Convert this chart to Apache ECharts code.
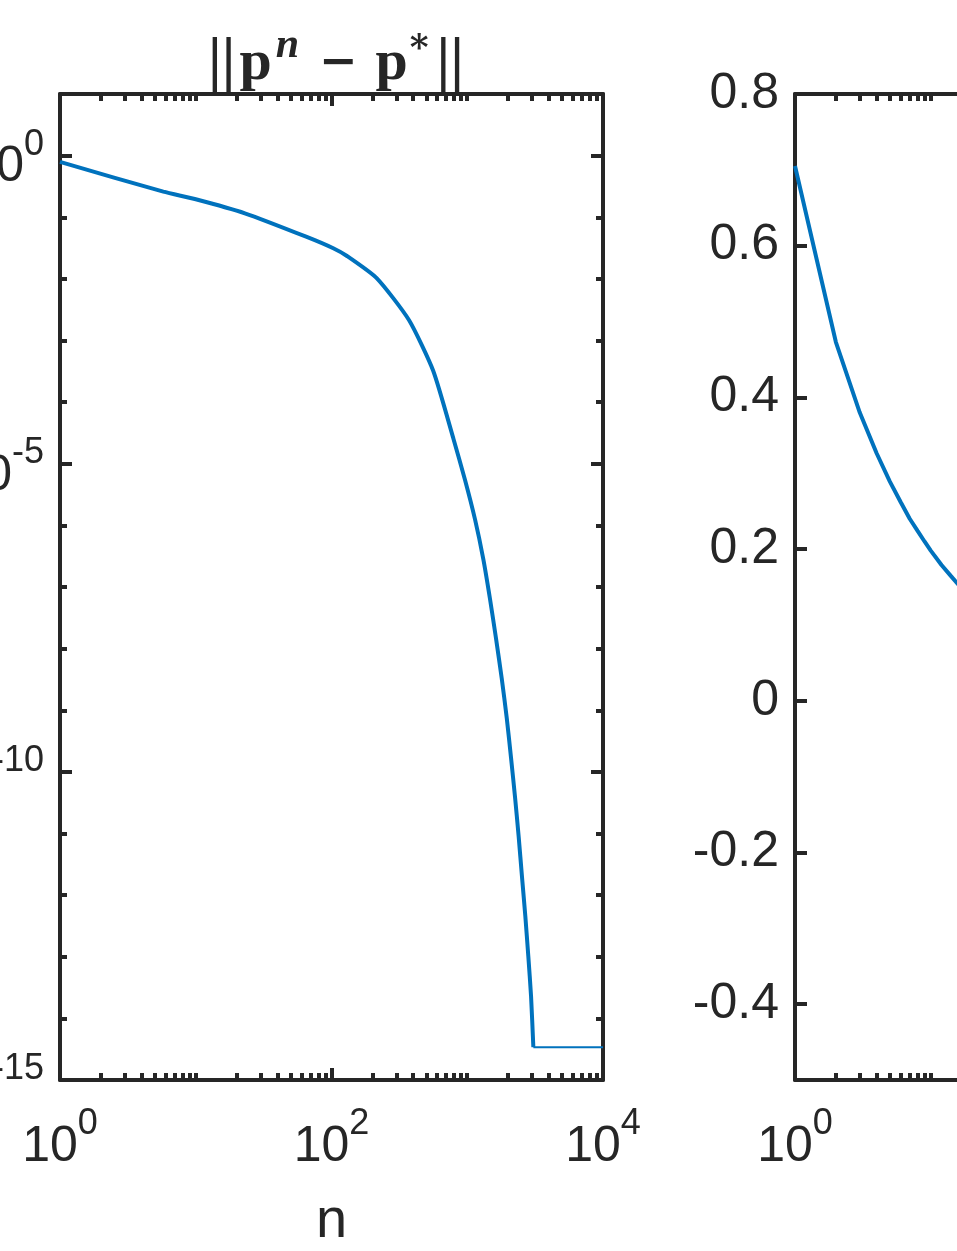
<!DOCTYPE html>
<html lang="en">
<head>
  <meta charset="UTF-8">
  <title>p^n convergence</title>
  <style>
    html, body { margin: 0; padding: 0; background: #fff; }
    #chart { width: 957px; height: 1251px; }
  </style>
</head>
<body>
  <div id="chart"></div>
  <script src="https://cdn.jsdelivr.net/npm/echarts@6/dist/echarts.min.js"></script>
  <script>
    // left panel: ||p^n - p*|| against n, log-log
    var errN = [1, 5.77, 10, 23, 65, 103, 130, 216, 372, 562, 789, 962, 1141, 1313, 1471, 1629, 1794, 1954, 2101, 2249, 2393, 2530, 2677, 2817, 2951, 3069]
    var errVal = [0.79, 0.26, 0.196, 0.116, 0.0484, 0.0314, 0.0235, 0.0102, 2.15e-3, 3.2e-4, 2.6e-5, 5.5e-6, 1.25e-6, 2.84e-7, 6.4e-8, 1.46e-8, 3.3e-9, 7.5e-10, 1.7e-10, 3.9e-11, 8.8e-12, 2.0e-12, 4.6e-13, 1.02e-13, 2.3e-14, 3.4e-15]
    // flat tail once the error hits machine precision
    var floorN = [3069, 10000]
    var floorVal = [3.4e-15, 3.4e-15]

    // right panel (cut off by the page edge)
    var rightN = [1, 2, 3, 4, 5, 6, 7, 8, 9, 10, 12, 14, 16, 18]
    var rightVal = [0.705, 0.473, 0.380, 0.326, 0.289, 0.262, 0.240, 0.224, 0.210, 0.198, 0.179, 0.165, 0.153, 0.144]

    // ticks
    var xMajor = [1, 100, 10000]
    var xMinor = []
    for (var k = 0; k < 4; k++) {
      for (var m = 2; m <= 10; m++) {
        if (m === 10 && (k === 1 || k === 3)) continue
        xMinor.push(m * Math.pow(10, k))
      }
    }
    var errMajor = [1e-15, 1e-10, 1e-5, 1]
    var errMinor = []
    for (var e = -14; e <= 0; e++) {
      if (e % 5 !== 0) errMinor.push(Math.pow(10, e))
    }
    var rightTicks = [-0.4, -0.2, 0, 0.2, 0.4, 0.6]
    var rightLabels = [-0.4, -0.2, 0, 0.2, 0.4, 0.6, 0.8]

    var ink = '#262626'
    var blue = '#0072BD'
    var sans = 'Liberation Sans, Arial, Helvetica, sans-serif'
    var serif = 'Liberation Serif, DejaVu Serif, serif'

    var powRich = {
      b: { fontSize: 50, fontFamily: sans, color: ink, padding: [24, 0, 0, 0] },
      s: { fontSize: 36, fontFamily: sans, color: ink, padding: [0, 0, 22, 0] }
    }

    function powLabel (v) {
      return '{b|10}{s|' + Math.round(Math.log10(v)) + '}'
    }

    function makeAxis (o) {
      var ax = {
        gridIndex: o.grid,
        position: o.pos,
        type: o.type,
        min: o.min,
        max: o.max,
        splitLine: { show: false },
        axisLine: { show: !!o.line, onZero: false, lineStyle: { color: ink, width: 4 } },
        axisTick: { show: true, inside: true, length: o.len, customValues: o.ticks, lineStyle: { color: ink, width: 4 } },
        axisLabel: { show: false }
      }
      if (o.type === 'log') ax.logBase = 10
      if (o.labels) {
        ax.axisLabel = {
          show: true,
          customValues: o.labels,
          formatter: o.fmt,
          margin: o.margin,
          color: ink,
          fontSize: 50,
          fontFamily: sans,
          rich: powRich
        }
      }
      if (o.name) {
        ax.name = o.name
        ax.nameLocation = 'middle'
        ax.nameGap = o.nameGap
        ax.nameTextStyle = { color: ink, fontSize: 56, fontFamily: sans }
      }
      return ax
    }

    var xAxes = []
    var yAxes = []

    // left panel frame
    xAxes.push(makeAxis({ grid: 0, pos: 'bottom', type: 'log', min: 1, max: 10000, line: true, len: 12, ticks: xMajor, labels: xMajor, fmt: powLabel, margin: 18, name: 'n', nameGap: 114 }))
    xAxes.push(makeAxis({ grid: 0, pos: 'bottom', type: 'log', min: 1, max: 10000, len: 7, ticks: xMinor }))
    xAxes.push(makeAxis({ grid: 0, pos: 'top', type: 'log', min: 1, max: 10000, line: true, len: 12, ticks: xMajor }))
    xAxes.push(makeAxis({ grid: 0, pos: 'top', type: 'log', min: 1, max: 10000, len: 7, ticks: xMinor }))
    yAxes.push(makeAxis({ grid: 0, pos: 'left', type: 'log', min: 1e-15, max: 10, line: true, len: 12, ticks: errMajor, labels: errMajor, fmt: powLabel, margin: 16 }))
    yAxes.push(makeAxis({ grid: 0, pos: 'left', type: 'log', min: 1e-15, max: 10, len: 7, ticks: errMinor }))
    yAxes.push(makeAxis({ grid: 0, pos: 'right', type: 'log', min: 1e-15, max: 10, line: true, len: 12, ticks: errMajor }))
    yAxes.push(makeAxis({ grid: 0, pos: 'right', type: 'log', min: 1e-15, max: 10, len: 7, ticks: errMinor }))

    // right panel frame
    var rx = xAxes.length
    xAxes.push(makeAxis({ grid: 1, pos: 'bottom', type: 'log', min: 1, max: 10000, line: true, len: 12, ticks: xMajor, labels: xMajor, fmt: powLabel, margin: 18 }))
    xAxes.push(makeAxis({ grid: 1, pos: 'bottom', type: 'log', min: 1, max: 10000, len: 7, ticks: xMinor }))
    xAxes.push(makeAxis({ grid: 1, pos: 'top', type: 'log', min: 1, max: 10000, line: true, len: 12, ticks: xMajor }))
    xAxes.push(makeAxis({ grid: 1, pos: 'top', type: 'log', min: 1, max: 10000, len: 7, ticks: xMinor }))
    var ry = yAxes.length
    yAxes.push(makeAxis({ grid: 1, pos: 'left', type: 'value', min: -0.5, max: 0.8, line: true, len: 12, ticks: rightTicks, labels: rightLabels, fmt: function (v) { return String(+v.toFixed(1)) }, margin: 16 }))
    yAxes.push(makeAxis({ grid: 1, pos: 'right', type: 'value', min: -0.5, max: 0.8, line: true, len: 12, ticks: rightTicks }))

    function pairs (xs, ys) {
      return xs.map(function (x, i) { return [x, ys[i]] })
    }

    var chart = echarts.init(document.getElementById('chart'))
    chart.setOption({
      animation: false,
      backgroundColor: '#fff',
      title: {
        left: 331,
        top: 20,
        textAlign: 'center',
        text: '{bar|||}{p|p}{n|n}{op|−}{p|p}{st|*}{bar|||}',
        textStyle: {
          rich: {
            bar: { fontFamily: serif, fontSize: 62, color: ink, padding: [0, 2, 0, 2] },
            p: { fontFamily: serif, fontWeight: 'bold', fontSize: 58, color: ink, padding: [0, 2, 0, 2] },
            n: { fontFamily: serif, fontStyle: 'italic', fontSize: 42, color: ink, padding: [0, 6, 36, 2] },
            op: { fontFamily: 'DejaVu Serif', fontSize: 46, color: ink, padding: [0, 16, 0, 14] },
            st: { fontFamily: 'DejaVu Serif', fontSize: 36, color: ink, padding: [0, 6, 28, 0] }
          }
        }
      },
      grid: [
        { left: 60, top: 94, width: 543, height: 986, containLabel: false, outerBoundsMode: 'none' },
        { left: 795, top: 94, width: 543, height: 986, containLabel: false, outerBoundsMode: 'none' }
      ],
      xAxis: xAxes,
      yAxis: yAxes,
      series: [
        {
          type: 'line',
          xAxisIndex: 0,
          yAxisIndex: 0,
          data: pairs(errN, errVal),
          showSymbol: false,
          smooth: 0.2,
          lineStyle: { color: blue, width: 4 }
        },
        {
          type: 'line',
          xAxisIndex: 0,
          yAxisIndex: 0,
          data: pairs(floorN, floorVal),
          showSymbol: false,
          lineStyle: { color: blue, width: 2.2 }
        },
        {
          type: 'line',
          xAxisIndex: rx,
          yAxisIndex: ry,
          data: pairs(rightN, rightVal),
          showSymbol: false,
          lineStyle: { color: blue, width: 4 }
        }
      ]
    })
  </script>
</body>
</html>
